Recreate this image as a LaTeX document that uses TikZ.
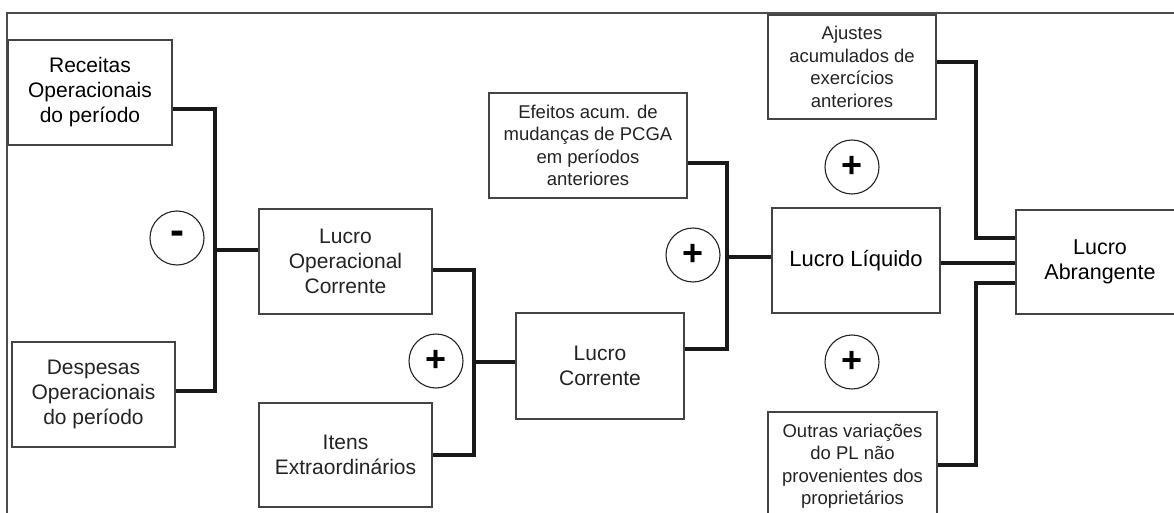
\documentclass[tikz,border=0pt]{standalone}
\usepackage{fontspec}
\setmainfont{Liberation Sans}
\usetikzlibrary{positioning,calc}
\definecolor{inkgray}{HTML}{232323}
\tikzstyle{block} = [draw=inkgray!85, line width=1.3pt, rectangle, align=center, text=inkgray, font=\fontsize{21}{25}\selectfont]
\tikzstyle{smallblock} = [block, font=\fontsize{18.5}{22.5}\selectfont]
\tikzstyle{signal} = [draw=inkgray, line width=1.1pt, circle, minimum size=54pt, inner sep=0pt, text=black, font=\bfseries\fontsize{36}{36}\selectfont]
\tikzstyle{Join} = [line width=3.8pt, draw=black!90]

\begin{document}
\begin{tikzpicture}[x=1pt, y=-1pt]
            \useasboundingbox (0,0) rectangle (1174,513);
            %%%%% Frame %%%%%
            \draw[line width=1.6pt, draw=black!70] (7,513) -- (7,13) -- (1180,13);
            %%%%% Operating result %%%%%
            \node (R) [block, text=black, minimum width=164pt, minimum height=105pt] at (90,92.5) {Receitas\\Operacionais\\do período};
            \node (D) [block, minimum width=163pt, minimum height=105pt] at (93.5,394.5) {Despesas\\Operacionais\\do período};
            \node (O) [block, minimum width=173pt, minimum height=105pt] at (345.5,261.5) {Lucro\\Operacional\\Corrente};
            \node (m1) [signal, font=\bfseries\fontsize{42}{42}\selectfont] at (177,238) {-};
            \coordinate (J1) at (215,250);
            \draw [Join] ($(R.east)+(0,16.5)$) -| (J1) |- ($(D.east)+(0,-3.5)$);
            \draw [Join] (J1) -- (J1 -| O.west);
            %%%%% Current result %%%%%
            \node (E) [block, minimum width=173pt, minimum height=104pt] at (345.5,455) {Itens\\Extraordinários};
            \node (C) [block, minimum width=168pt, minimum height=106pt] at (600,366) {Lucro\\Corrente};
            \node (p1) [signal] at (436,361) {+};
            \coordinate (J2) at (474,362);
            \draw [Join] ($(O.east)+(0,8.5)$) -| (J2) |- (E.east);
            \draw [Join] (J2) -- (J2 -| C.west);
            %%%%% Net result %%%%%
            \node (P) [smallblock, minimum width=198pt, minimum height=105pt] at (588,145.5) {Efeitos acum. de\\mudanças de PCGA\\em períodos\\anteriores};
            \node (L) [block, text=black, minimum width=168pt, minimum height=105pt, font=\fontsize{22}{25}\selectfont] at (856,260.5) {Lucro Líquido};
            \node (p2) [signal] at (693,255) {+};
            \coordinate (J3) at (727,257);
            \draw [Join] ($(C.east)+(0,-17)$) -| (J3) |- ($(P.east)+(0,17.5)$);
            \draw [Join] (J3) -- (J3 -| L.west);
            %%%%% Comprehensive result %%%%%
            \node (A) [block, text=black, minimum width=168pt, minimum height=104pt, font=\fontsize{21.5}{25}\selectfont] at (1100,262) {Lucro\\Abrangente};
            \node (X) [smallblock, minimum width=168pt, minimum height=104pt] at (852,67) {Ajustes\\acumulados de\\exercícios\\anteriores};
            \node (Y) [smallblock, minimum width=169pt, minimum height=108pt] at (852.5,466) {Outras variações\\do PL não\\provenientes dos\\proprietários};
            \node (p3) [signal] at (852,167) {+};
            \node (p4) [signal] at (852,362) {+};
            \coordinate (J4) at (976,238);
            \coordinate (J5) at (976,283);
            \draw [Join] ($(X.east)+(0,-5)$) -| (J4) -- (J4 -| A.west);
            \draw [Join] ($(Y.east)+(0,-1)$) -| (J5) -- (J5 -| A.west);
            \draw [Join] ($(L.east)+(0,2.5)$) -- ($(A.west)+(0,1)$);
\end{tikzpicture}
\end{document}
